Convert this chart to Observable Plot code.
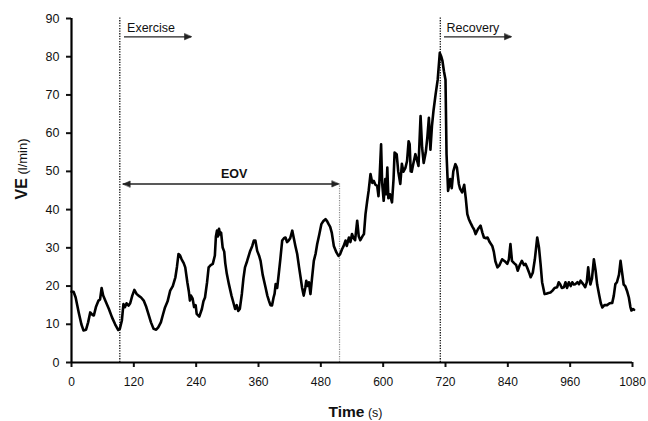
<!DOCTYPE html>
<html><head><meta charset="utf-8">
<script src="https://cdn.jsdelivr.net/npm/d3@7"></script>
<script src="https://cdn.jsdelivr.net/npm/@observablehq/plot@0.6"></script>
<style>
html,body{margin:0;padding:0;background:#fff;}
#chart{width:648px;height:421px;}
</style></head><body><div id="chart"></div>
<script>
// ---- data ----
const timeS = [0,4,8,14,19,23,28,32,36,40,43,47,52,55,58,61,65,72,78,84,90,93,97,100,103,106,110,113,117,121,125,129,134,139,144,148,153,158,163,167,172,176,180,185,190,195,200,203,206,209,212,216,219,223,226,228,230,233,236,239,241,246,251,254,257,261,264,268,272,276,278,280,282,284,286,288,291,294,296,299,303,308,312,315,318,321,324,328,331,334,338,344,348,351,354,357.5,361,364,368,373.5,377,380,383,386,389,391,393,396,399,402,405.6,409,412,415,418,421,425,428,431,434.5,438,441,444,447,450,452,454,457,460,463,466.5,470,473,477,481,485,489,492,495,498,501,505,510,514,517,521,524,527.5,530,534,537,540,543,546,550,553,556,560,563,566,569,572,575.6,579,582,585,588.5,591,593,596,598,601,604,606,608,610,613,617,620,622,626,629,633,636,639,643,646,649,651,653,655,658,662,665,668,672,675,678,682,685,688,691,694,697,701,705,709,712,714,717,720,722,725,729,732,735,739,742,745.7,748,752,756,759,762,765,768,772,775,778,781,784,787.5,791,794,798,801,805,810,813,816,820,824,829,834,839,842,845,848,852,856,859,863,867,871,874,877,881,884,888,892,896.6,900,903,906,910.7,914,918,922,926,930,935,938,941,944,948,951,954,957.5,961,964,967,970,974,977,980,985,989,992,994.7,997,999,1002,1005.6,1009,1012,1016,1019,1022,1026,1031,1036,1041,1044,1047,1050,1054,1057,1060,1063,1066,1070,1073,1076,1078,1081,1083];
const veLmin = [18.5,18.5,17,13,10,8.4,8.6,10.5,13.1,12.5,12.3,14.5,16.2,16.5,19.5,17.5,16.2,14,11.8,10,8.5,8.8,11,15.3,14.5,15.5,14.9,15.5,17.5,19,18,17.5,17,16.2,14.5,12.7,10.5,8.8,8.6,9.2,10.5,12.5,14.4,16,18.8,20,22.3,25,28.4,28,27,26,24.9,21,18.5,16.2,17.5,16.8,14.5,15,12.7,12,14,16,17,21,24.9,25.5,25.8,28,33,34.5,33,35,33.5,34,30.1,29,26,23.2,20.5,17.5,15.5,14,15,13.5,14,18,22,24.9,26.5,29.2,30.5,31.9,31.9,29.2,28,26.6,23,19.7,17.5,16.2,15,14.9,17,18,20.5,19.5,23.2,27,31.9,32.5,32.7,31.5,31.9,32.5,34.5,32.5,30.5,28.4,25,22.3,19.5,17.5,19.5,21.4,20,21,17.9,22,26.6,28.5,31,33.5,36.2,37,37.5,37,36.2,35.5,34,30.5,28.8,27.9,28.3,29.7,30.5,31.9,30.5,32.7,31.5,33.6,32.5,32,37.1,33,32,33,33.6,38.8,42,44.9,49.3,47,47.5,46.5,46.2,43.5,48,57.1,47,42.3,48,44,51,43,44,41.9,48,54.9,54.5,50,46.7,52,49.9,51,52.7,57.9,57.1,50,49.9,52,54.5,53,51.4,64.5,56.2,52.2,55,58.8,64,55.7,62,66,70.2,74,81,80,79,76.2,74,54.5,44.9,48,45.6,50,51.9,51,46.7,45.5,44.5,46.5,43,38.8,37.5,36.6,35.5,34.8,33.6,34.5,35.2,35.8,34,32.7,32.5,32.7,31.5,30.5,29,26.5,24.9,25.5,27,26.5,25.8,27,31,26.6,26,25.5,24,25.5,26.6,25.5,25.8,24.9,23.5,22.3,23.5,27,32.7,30,25.8,21,17.9,18,18.2,18.3,18.8,19.5,19.7,21,20.4,19.5,19.7,21,19.5,21,20,21,20.4,20.5,21,20.5,21.4,20.5,19.7,21,24.9,22,20.4,22,27,24,20.4,17.5,15.5,14.4,15,15,15.5,15.6,17.5,20.5,21,23,26.6,23.5,20.4,20,18.5,17,14.5,13.6,14,13.8];

const xTicks = [0,120,240,360,480,600,720,840,960,1080];
const yTicks = [0,10,20,30,40,50,60,70,80,90];

// phase markers (seconds)
const phaseTimes = [93, 710];
const phaseNames = ["Exercise", "Recovery"];
const phaseArrowStart = [102, 718];
const phaseArrowEnd = [231, 847];
const phaseArrowLevel = 85.2;
const phaseTextStart = [107, 722];
const phaseTextLevel = 87.6;

// EOV span
const eovName = "EOV";
const eovEnd = 516;
const eovArrowFrom = 99.5;
const eovArrowTo = 514.6;
const eovLevel = 46.7;
const eovTextAt = 313;
const eovTextLevel = 49.2;

// ---- build tables ----
const series = timeS.map((t, i) => ({t, ve: veLmin[i]}));
const phaseArrows = phaseNames.map((n, i) => ({name: n, x1: phaseArrowStart[i], x2: phaseArrowEnd[i], y: phaseArrowLevel, tx: phaseTextStart[i]}));
const heads = [
  ...phaseArrows.map(d => ({x: d.x2, y: d.y, rot: 90})),
  {x: eovArrowFrom, y: eovLevel, rot: -90},
  {x: eovArrowTo, y: eovLevel, rot: 90}
];

const headShape = {
  draw(context, l, r) {
    context.moveTo(0, -l);
    context.lineTo(r, 0);
    context.lineTo(-r, 0);
    context.closePath();
  }
};

const FONT = "'Liberation Sans', Arial, Helvetica, sans-serif";

const plot = Plot.plot({
  width: 648,
  height: 421,
  marginLeft: 71,
  marginRight: 16,
  marginTop: 18,
  marginBottom: 59,
  style: {fontFamily: FONT, fontSize: "12px", color: "#111", background: "#fff", overflow: "visible"},
  x: {domain: [0, 1080], label: null},
  y: {domain: [0, 90], label: null},
  marks: [
    Plot.axisX({ticks: xTicks, tickFormat: d => String(d), tickSize: 5, tickPadding: 10, strokeWidth: 2, fontSize: 12, label: null}),
    Plot.axisY({ticks: yTicks, tickFormat: d => String(d), tickSize: 5, tickPadding: 7, strokeWidth: 2, fontSize: 12.5, label: null}),
    // phase separators
    Plot.ruleX(phaseTimes, {y1: 0, y2: 90.3, stroke: "#111", strokeWidth: 1.3, strokeDasharray: "1.3,1.3"}),
    Plot.ruleX([eovEnd], {y1: 0, y2: eovLevel, stroke: "#8a8a8a", strokeWidth: 1.2, strokeDasharray: "1.2,1.2"}),
    // axis lines
    Plot.ruleY([0], {x1: 0, x2: 1080, stroke: "#000", strokeWidth: 2.2}),
    Plot.ruleX([0], {y1: 0, y2: 90, stroke: "#000", strokeWidth: 2.2}),
    // data line
    Plot.line(series, {x: "t", y: "ve", stroke: "#000", strokeWidth: 2.6, strokeLinejoin: "round", curve: "linear"}),
    // arrows
    Plot.ruleY(phaseArrows, {x1: "x1", x2: "x2", y: "y", stroke: "#222", strokeWidth: 1.3}),
    Plot.ruleY([eovLevel], {x1: eovArrowFrom, x2: eovArrowTo, stroke: "#222", strokeWidth: 1.3}),
    Plot.vector(heads, {x: "x", y: "y", rotate: "rot", length: 7, r: 3, anchor: "end", shape: headShape, fill: "#222", stroke: "#222", strokeWidth: 0.6}),
    // labels
    Plot.text(phaseArrows, {x: "tx", y: phaseTextLevel, text: "name", textAnchor: "start", fontSize: 12.5, fill: "#111"}),
    Plot.text([eovName], {x: eovTextAt, y: eovTextLevel, text: d => d, textAnchor: "middle", fontSize: 12.5, fontWeight: "bold", fill: "#111"})
  ]
});

document.getElementById("chart").appendChild(plot);

// axis titles with mixed weights
const svg = d3.select(plot);
const sx = plot.scale("x"), sy = plot.scale("y");
const xMid = (sx.apply(0) + sx.apply(1080)) / 2 + 4;
const xt = svg.append("text")
  .attr("x", xMid).attr("y", 417)
  .attr("text-anchor", "middle")
  .attr("font-family", FONT).attr("fill", "#111");
xt.append("tspan").attr("font-weight", "bold").attr("font-size", 15.5).text("Time");
xt.append("tspan").attr("font-size", 12.5).text(" (s)");

const yMid = sy.apply(50.5);
const yt = svg.append("text")
  .attr("transform", `translate(27,${yMid}) rotate(-90)`)
  .attr("text-anchor", "middle")
  .attr("font-family", FONT).attr("fill", "#111");
yt.append("tspan").attr("font-weight", "bold").attr("font-size", 16).text("VE");
yt.append("tspan").attr("font-size", 13).text(" (l/min)");
</script>
</body></html>
